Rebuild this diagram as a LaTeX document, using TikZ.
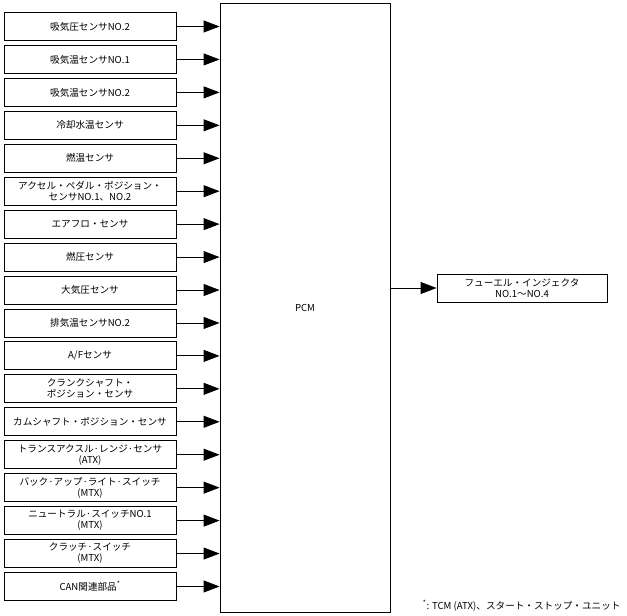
\documentclass[tikz,border=0pt]{standalone}
\usepackage{fontspec}
\setmainfont{Liberation Sans}
\newfontfamily\jp{Noto Sans CJK JP}
\usetikzlibrary{arrows.meta}
\begin{document}
\begin{tikzpicture}[x=1pt,y=-1pt,
  lbl/.style={font=\jp\fontsize{9.6}{11}\selectfont},
  inbox/.style={draw,line width=0.9pt,minimum width=172pt,minimum height=28pt,inner sep=0pt,align=center,lbl},
  conn/.style={line width=0.9pt,-{Triangle[length=16pt,width=12pt]}}]
\useasboundingbox (0,0) rectangle (627,616);
\node[draw,line width=0.9pt,minimum width=170pt,minimum height=609pt,inner sep=0pt,lbl] (pcm) at (305,307.5) {PCM};
\foreach \i/\t in {1/吸気圧センサNO.2,2/吸気温センサNO.1,3/吸気温センサNO.2,4/冷却水温センサ,5/燃温センサ,
  6/{アクセル・ペダル・ポジション・\\センサNO.1、NO.2},7/エアフロ・センサ,8/燃圧センサ,9/大気圧センサ,
  10/排気温センサNO.2,11/{A/Fセンサ},12/{クランクシャフト・\\ポジション・センサ},13/カムシャフト・ポジション・センサ,
  14/{トランスアクスル·レンジ·センサ\\(ATX)},15/{バック·アップ·ライト·スイッチ\\(MTX)},16/{ニュートラル·スイッチNO.1\\(MTX)},
  17/{クラッチ·スイッチ\\(MTX)},18/{CAN関連部品\textsuperscript{*}}}{
  \node[inbox] (s\i) at (90,{26.5+(\i-1)*32.94}) {\t};
  \draw[conn] (s\i.east) -- (s\i.east -| pcm.west);
}
\node[inbox,minimum width=170pt,minimum height=28pt] (fi) at (522,288) {フューエル・インジェクタ\\NO.1〜NO.4};
\draw[conn] (fi.west -| pcm.east) -- (fi.west);
\node[lbl,anchor=east] (note) at (624,606) {\textsuperscript{*}: TCM (ATX)、スタート・ストップ・ユニット};
\end{tikzpicture}
\end{document}
